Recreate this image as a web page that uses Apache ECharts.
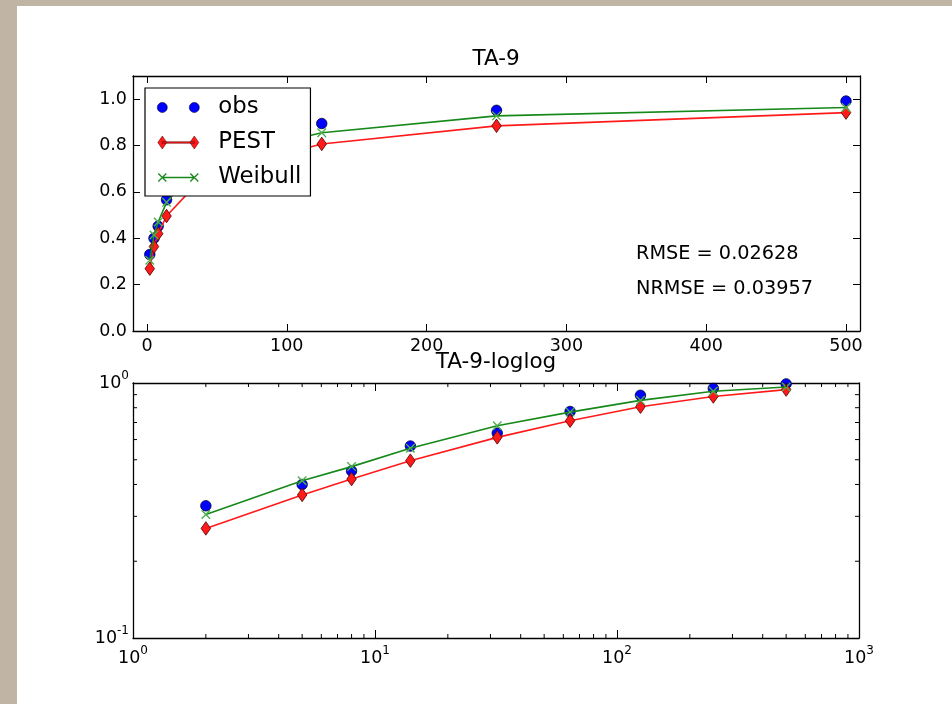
<!DOCTYPE html>
<html>
<head>
<meta charset="utf-8">
<script src="https://cdn.jsdelivr.net/npm/echarts@6/dist/echarts.min.js"></script>
<style>
  html, body { margin: 0; padding: 0; background: #c0b4a4; }
  #chart { width: 952px; height: 704px; }
</style>
</head>
<body>
<div id="chart"></div>
<script>
// Sample sizes and cumulative fractions
const xVals       = [2, 5, 8, 14, 32, 64, 125, 250, 500];
const obsVals     = [0.330, 0.400, 0.452, 0.566, 0.636, 0.773, 0.895, 0.952, 0.992];
const pestVals    = [0.269, 0.364, 0.420, 0.496, 0.612, 0.711, 0.807, 0.885, 0.942];
const weibullVals = [0.305, 0.414, 0.470, 0.555, 0.680, 0.769, 0.855, 0.928, 0.964];

// Axis ticks
const linXTicks = [0, 100, 200, 300, 400, 500];
const linYTicks = [0.0, 0.2, 0.4, 0.6, 0.8, 1.0];
const logXTicks = [1, 10, 100, 1000];
const logYTicks = [0.1, 1];
const logXMinor = [2, 3, 4, 5, 6, 7, 8, 9, 20, 30, 40, 50, 60, 70, 80, 90, 200, 300, 400, 500, 600, 700, 800, 900];
const logYMinor = [0.2, 0.3, 0.4, 0.5, 0.6, 0.7, 0.8, 0.9];

// Text
const topTitle = 'TA-9';
const bottomTitle = 'TA-9-loglog';
const statLines = ['RMSE = 0.02628', 'NRMSE = 0.03957'];
const seriesNames = ['obs', 'PEST', 'Weibull'];

const FONT = 'DejaVu Sans';
const BLUE = '#0000ff', RED = '#ff1a1a', GREEN = '#16891a';

const pts = ys => xVals.map((x, i) => [x, ys[i]]);

// --- marker / legend icon paths ---
function crossPath(cx, cy, s, a) {
  const d1 = [[-s + a, -s - a], [s + a, s - a], [s - a, s + a], [-s - a, -s + a]];
  const d2 = [[-s - a, s - a], [s - a, -s - a], [s + a, -s + a], [-s + a, s + a]];
  const poly = p => 'M' + p.map(q => (cx + q[0]).toFixed(2) + ',' + (cy + q[1]).toFixed(2)).join('L') + 'Z';
  return poly(d1) + poly(d2);
}
function circlePath(cx, cy, r) {
  return 'M' + (cx - r) + ',' + cy + 'A' + r + ',' + r + ',0,1,0,' + (cx + r) + ',' + cy +
         'A' + r + ',' + r + ',0,1,0,' + (cx - r) + ',' + cy + 'Z';
}
function diamondPath(cx, cy, hw, hh) {
  return 'M' + cx + ',' + (cy - hh) + 'L' + (cx + hw) + ',' + cy + 'L' + cx + ',' + (cy + hh) + 'L' + (cx - hw) + ',' + cy + 'Z';
}
const IW = 44, IH = 14, C1 = 6, C2 = 38, CY = 7;
const frame = 'M0,0M' + IW + ',' + IH;
const bar = 'M' + C1 + ',' + (CY - 0.8) + 'L' + C2 + ',' + (CY - 0.8) + 'L' + C2 + ',' + (CY + 0.8) + 'L' + C1 + ',' + (CY + 0.8) + 'Z';
const obsIcon = 'path://' + frame + circlePath(C1, CY, 5) + circlePath(C2, CY, 5);
const pestIcon = 'path://' + frame + bar + diamondPath(C1, CY, 4.5, 6.5) + diamondPath(C2, CY, 4.5, 6.5);
const weibullIcon = 'path://' + frame + bar + crossPath(C1, CY, 4, 0.45) + crossPath(C2, CY, 4, 0.45);
const crossSymbol = 'path://' + crossPath(5, 5, 4, 0.45);

const axisLine = { show: true, onZero: false, lineStyle: { color: '#000', width: 1.3 } };
const tickLabel = { color: '#000', fontFamily: FONT, fontSize: 17.5 };

function logLabel(v) {
  const e = Math.round(Math.log10(v));
  return '{b|10}{s|' + (e < 0 ? '-' + Math.abs(e) : e) + '}';
}
const logRich = {
  b: { fontFamily: FONT, fontSize: 17.5, color: '#000', lineHeight: 26 },
  s: { fontFamily: FONT, fontSize: 12, color: '#000', lineHeight: 14, verticalAlign: 'top' }
};

const obsStyle = {
  type: 'line', name: seriesNames[0], symbol: 'circle', symbolSize: 10.5,
  lineStyle: { width: 0, opacity: 0 },
  itemStyle: { color: BLUE, borderColor: '#00003c', borderWidth: 0.8 },
  z: 2
};
const pestStyle = {
  type: 'line', name: seriesNames[1], symbol: 'diamond', symbolSize: [9.5, 13.5],
  lineStyle: { color: RED, width: 1.6 },
  itemStyle: { color: RED, borderColor: '#500000', borderWidth: 0.8 },
  z: 3
};
const weibullStyle = {
  type: 'line', name: seriesNames[2], symbol: crossSymbol, symbolSize: 9.5,
  lineStyle: { color: GREEN, width: 1.6 },
  itemStyle: { color: '#4caf4c', borderWidth: 0 },
  z: 4
};

// Minor ticks for the log-log panel, positioned through the axes
function minorTickSeries(values, dir) {
  return {
    type: 'custom', xAxisIndex: 2, yAxisIndex: 2, silent: true, clip: false, z: 5,
    data: values.map(v => dir === 'x' ? [v, 1] : [1, v]),
    renderItem: function (params, api) {
      const c = params.coordSys;
      const st = { stroke: '#000', lineWidth: 1 };
      const L = 4;
      if (dir === 'x') {
        const px = api.coord([api.value(0), 1])[0];
        return { type: 'group', children: [
          { type: 'line', shape: { x1: px, y1: c.y + c.height, x2: px, y2: c.y + c.height - L }, style: st },
          { type: 'line', shape: { x1: px, y1: c.y, x2: px, y2: c.y + L }, style: st }
        ]};
      }
      const py = api.coord([1, api.value(1)])[1];
      return { type: 'group', children: [
        { type: 'line', shape: { x1: c.x, y1: py, x2: c.x + L, y2: py }, style: st },
        { type: 'line', shape: { x1: c.x + c.width, y1: py, x2: c.x + c.width - L, y2: py }, style: st }
      ]};
    }
  };
}

const option = {
  backgroundColor: '#c0b4a4',
  animation: false,
  graphic: [
    { type: 'rect', left: 17, top: 6, shape: { width: 935, height: 698 }, style: { fill: '#ffffff' }, z: -10, silent: true },
    { type: 'text', x: 496, y: 59, style: { text: topTitle, font: '21.5px "DejaVu Sans"', fill: '#000', align: 'center', verticalAlign: 'middle' } },
    { type: 'text', x: 496, y: 362, style: { text: bottomTitle, font: '21.5px "DejaVu Sans"', fill: '#000', align: 'center', verticalAlign: 'middle' }, z: 10 },
    { type: 'text', x: 636, y: 254, style: { text: statLines[0], font: '19.3px "DejaVu Sans"', fill: '#000', align: 'left', verticalAlign: 'middle' } },
    { type: 'text', x: 636, y: 289, style: { text: statLines[1], font: '19.3px "DejaVu Sans"', fill: '#000', align: 'left', verticalAlign: 'middle' } }
  ],
  legend: {
    orient: 'vertical', left: 145, top: 88, z: 20,
    padding: [8, 9, 7, 11], itemGap: 12, itemWidth: IW, itemHeight: IH,
    backgroundColor: '#ffffff', borderColor: '#000', borderWidth: 1.2, borderRadius: 0,
    selectedMode: false,
    textStyle: { fontFamily: FONT, fontSize: 22.8, color: '#000', lineHeight: 22, padding: [0, 0, 0, 13] },
    data: [
      { name: seriesNames[0], icon: obsIcon, itemStyle: { borderWidth: 0.6 } },
      { name: seriesNames[1], icon: pestIcon, itemStyle: { borderWidth: 0.5 } },
      { name: seriesNames[2], icon: weibullIcon, itemStyle: { color: GREEN, borderWidth: 0 } }
    ]
  },
  grid: [
    { left: 133, top: 76, width: 727, height: 255 },
    { left: 133, top: 383, width: 726, height: 255 }
  ],
  xAxis: [
    { type: 'value', gridIndex: 0, position: 'bottom', min: -10, max: 510,
      axisLine: axisLine, splitLine: { show: false },
      axisTick: { inside: true, length: 7, lineStyle: { color: '#000' }, customValues: linXTicks },
      axisLabel: Object.assign({ margin: 6, customValues: linXTicks }, tickLabel) },
    { type: 'value', gridIndex: 0, position: 'top', min: -10, max: 510,
      axisLine: axisLine, splitLine: { show: false },
      axisTick: { inside: true, length: 7, lineStyle: { color: '#000' }, customValues: linXTicks },
      axisLabel: { show: false } },
    { type: 'log', logBase: 10, gridIndex: 1, position: 'bottom', min: logXTicks[0], max: logXTicks[logXTicks.length - 1],
      axisLine: axisLine, splitLine: { show: false },
      axisTick: { inside: true, length: 8, lineStyle: { color: '#000' } },
      axisLabel: { margin: 7, formatter: logLabel, rich: logRich } },
    { type: 'log', logBase: 10, gridIndex: 1, position: 'top', min: logXTicks[0], max: logXTicks[logXTicks.length - 1],
      axisLine: axisLine, splitLine: { show: false },
      axisTick: { inside: true, length: 8, lineStyle: { color: '#000' } },
      axisLabel: { show: false } }
  ],
  yAxis: [
    { type: 'value', gridIndex: 0, position: 'left', min: 0, max: 1.1,
      axisLine: axisLine, splitLine: { show: false },
      axisTick: { inside: true, length: 7, lineStyle: { color: '#000' }, customValues: linYTicks },
      axisLabel: Object.assign({ margin: 6, customValues: linYTicks, formatter: v => v.toFixed(1) }, tickLabel) },
    { type: 'value', gridIndex: 0, position: 'right', min: 0, max: 1.1,
      axisLine: axisLine, splitLine: { show: false },
      axisTick: { inside: true, length: 7, lineStyle: { color: '#000' }, customValues: linYTicks },
      axisLabel: { show: false } },
    { type: 'log', logBase: 10, gridIndex: 1, position: 'left', min: logYTicks[0], max: logYTicks[logYTicks.length - 1],
      axisLine: axisLine, splitLine: { show: false },
      axisTick: { inside: true, length: 8, lineStyle: { color: '#000' } },
      axisLabel: { margin: 4, formatter: logLabel, rich: logRich } },
    { type: 'log', logBase: 10, gridIndex: 1, position: 'right', min: logYTicks[0], max: logYTicks[logYTicks.length - 1],
      axisLine: axisLine, splitLine: { show: false },
      axisTick: { inside: true, length: 8, lineStyle: { color: '#000' } },
      axisLabel: { show: false } }
  ],
  series: [
    Object.assign({}, obsStyle, { xAxisIndex: 0, yAxisIndex: 0, data: pts(obsVals) }),
    Object.assign({}, pestStyle, { xAxisIndex: 0, yAxisIndex: 0, data: pts(pestVals) }),
    Object.assign({}, weibullStyle, { xAxisIndex: 0, yAxisIndex: 0, data: pts(weibullVals) }),
    Object.assign({}, obsStyle, { xAxisIndex: 2, yAxisIndex: 2, data: pts(obsVals) }),
    Object.assign({}, pestStyle, { xAxisIndex: 2, yAxisIndex: 2, data: pts(pestVals) }),
    Object.assign({}, weibullStyle, { xAxisIndex: 2, yAxisIndex: 2, data: pts(weibullVals) }),
    minorTickSeries(logXMinor, 'x'),
    minorTickSeries(logYMinor, 'y')
  ]
};

const chart = echarts.init(document.getElementById('chart'), null, { renderer: 'canvas' });
chart.setOption(option);
</script>
</body>
</html>
